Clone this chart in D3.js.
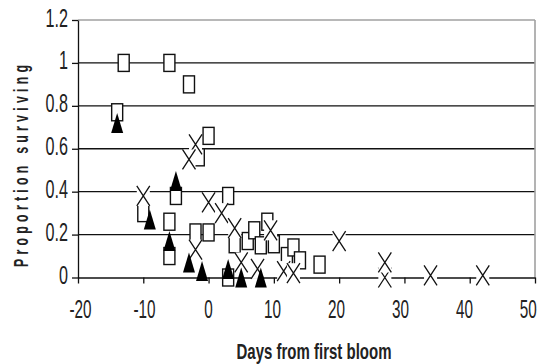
<!DOCTYPE html>
<html>
<head>
<meta charset="utf-8">
<script src="https://cdn.jsdelivr.net/npm/d3@7"></script>
<style>
  body { margin: 0; background: #fff; }
  svg { display: block; }
</style>
</head>
<body>
<div id="chart"></div>
<script>

var xTicks = [-20, -10, 0, 10, 20, 30, 40, 50];
var yTicks = [0, 0.2, 0.4, 0.6, 0.8, 1, 1.2];

// open squares
var squareDays = [-14, -13, -6, -3, 0, -1.5, -10, -5, -6, -6, -2, 0, 3, 3, 4, 6, 7, 8, 9, 10, 12, 13, 14, 17];
var squareProp = [0.77, 1.0, 1.0, 0.9, 0.66, 0.56, 0.30, 0.38, 0.26, 0.10, 0.21, 0.21, 0.38, 0.0, 0.155, 0.17, 0.22, 0.15, 0.26, 0.155, 0.10, 0.14, 0.08, 0.06];

// crosses
var crossDays = [-10, -2, -3, 0, 2, 4, -2, 9.5, 5, 7.5, 11.5, 13, 20, 27, 27, 34, 42];
var crossProp = [0.38, 0.62, 0.55, 0.35, 0.30, 0.23, 0.13, 0.22, 0.07, 0.04, 0.03, 0.02, 0.17, 0.0, 0.07, 0.01, 0.01];

// filled triangles
var triDays = [-14, -5, -9, -6, -3, -1, 3, 5, 8];
var triProp = [0.72, 0.45, 0.27, 0.17, 0.07, 0.03, 0.04, 0.0, 0.0];

var width = 542, height = 364;
var sy = 1.5; // the picture is stretched vertically

var svg = d3.select("#chart").append("svg")
    .attr("width", width)
    .attr("height", height);

var x = d3.scaleLinear().domain([-20, 50]).range([78, 535]);
var y = d3.scaleLinear().domain([0, 1.2]).range([277.5, 20]);

// gridlines
svg.selectAll(".grid")
    .data(yTicks.filter(function(d) { return d > 0; }))
    .enter().append("line")
    .attr("class", "grid")
    .attr("x1", x(-20)).attr("x2", x(50))
    .attr("y1", function(d) { return y(d); })
    .attr("y2", function(d) { return y(d); })
    .attr("stroke", function(d) { return d == 1.2 ? "#a0a0a0" : "#111"; })
    .attr("stroke-width", function(d) { return d == 1.2 ? 1.6 : 1.3; });

svg.append("line")
    .attr("x1", x(50)).attr("x2", x(50))
    .attr("y1", y(1.2)).attr("y2", y(0))
    .attr("stroke", "#a0a0a0").attr("stroke-width", 1.6);

// axes
var yAxis = svg.append("g")
    .attr("transform", "translate(" + x(-20) + ",0)")
    .call(d3.axisLeft(y).tickValues(yTicks).tickSize(6).tickSizeOuter(0)
        .tickFormat(function(d) { return String(d); }));

var xAxis = svg.append("g")
    .attr("transform", "translate(0," + y(0) + ")")
    .call(d3.axisBottom(x).tickValues(xTicks).tickSize(6).tickSizeOuter(0)
        .tickFormat(function(d) { return String(d); }));

[xAxis, yAxis].forEach(function(a) {
    a.select(".domain").attr("stroke", "#111").attr("stroke-width", 1.3);
    a.selectAll(".tick line").attr("stroke", "#111").attr("stroke-width", 1.3);
    a.selectAll(".tick text")
        .attr("fill", "#222")
        .style("font-family", "'Liberation Sans', Arial, sans-serif")
        .style("font-size", "17px");
});

yAxis.selectAll(".tick text")
    .attr("x", 0).attr("dy", 0)
    .attr("transform", "translate(-10,6) scale(0.95," + sy + ")");

// labels sit a little left of their ticks toward the right end
xAxis.selectAll(".tick text")
    .attr("y", 0).attr("dy", 0)
    .attr("transform", function(d) {
        return "translate(" + (2 - (x(d) - x(-20)) * 0.02) + ",40) scale(0.9," + sy + ")";
    });

// axis titles
svg.append("text")
    .attr("transform", "translate(314,359) scale(1," + sy + ")")
    .attr("text-anchor", "middle")
    .style("font-family", "'Liberation Sans', Arial, sans-serif")
    .style("font-size", "15px")
    .style("font-weight", "bold")
    .attr("fill", "#222")
    .text("Days from first bloom");

svg.append("text")
    .attr("transform", "translate(28,166) rotate(-90) scale(0.62,1)")
    .attr("text-anchor", "middle")
    .attr("textLength", 202 / 0.62)
    .attr("lengthAdjust", "spacing")
    .style("font-family", "'Liberation Sans', Arial, sans-serif")
    .style("font-size", "20px")
    .style("font-weight", "bold")
    .attr("fill", "#222")
    .text("Proportion surviving");

// markers
var squares = squareDays.map(function(d, i) { return { day: d, p: squareProp[i] }; });
var crosses = crossDays.map(function(d, i) { return { day: d, p: crossProp[i] }; });
var tris = triDays.map(function(d, i) { return { day: d, p: triProp[i] }; });

var sw = 11, sh = 17;
svg.selectAll(".sq")
    .data(squares)
    .enter().append("rect")
    .attr("class", "sq")
    .attr("x", function(d) { return x(d.day) - sw / 2; })
    .attr("y", function(d) { return y(d.p) - sh / 2; })
    .attr("width", sw).attr("height", sh)
    .attr("fill", "#fff")
    .attr("stroke", "#111")
    .attr("stroke-width", 1.4);

var cw = 13, ch = 20;
var cross = svg.selectAll(".cr")
    .data(crosses)
    .enter().append("g")
    .attr("class", "cr")
    .attr("transform", function(d) { return "translate(" + x(d.day) + "," + y(d.p) + ")"; });

cross.append("rect")
    .attr("x", -cw / 2).attr("y", -ch / 2)
    .attr("width", cw).attr("height", ch)
    .attr("fill", "#fff");

cross.append("path")
    .attr("d", "M" + (-cw / 2) + "," + (-ch / 2) + "L" + (cw / 2) + "," + (ch / 2) +
               "M" + (cw / 2) + "," + (-ch / 2) + "L" + (-cw / 2) + "," + (ch / 2))
    .attr("stroke", "#111")
    .attr("stroke-width", 1.3)
    .attr("fill", "none");

var tw = 12, th = 20;
svg.selectAll(".tri")
    .data(tris)
    .enter().append("path")
    .attr("class", "tri")
    .attr("d", function(d) {
        var cx = x(d.day), cy = y(d.p);
        return "M" + cx + "," + (cy - th / 2) +
               "L" + (cx + tw / 2) + "," + (cy + th / 2) +
               "L" + (cx - tw / 2) + "," + (cy + th / 2) + "Z";
    })
    .attr("fill", "#000");

</script>
</body>
</html>
